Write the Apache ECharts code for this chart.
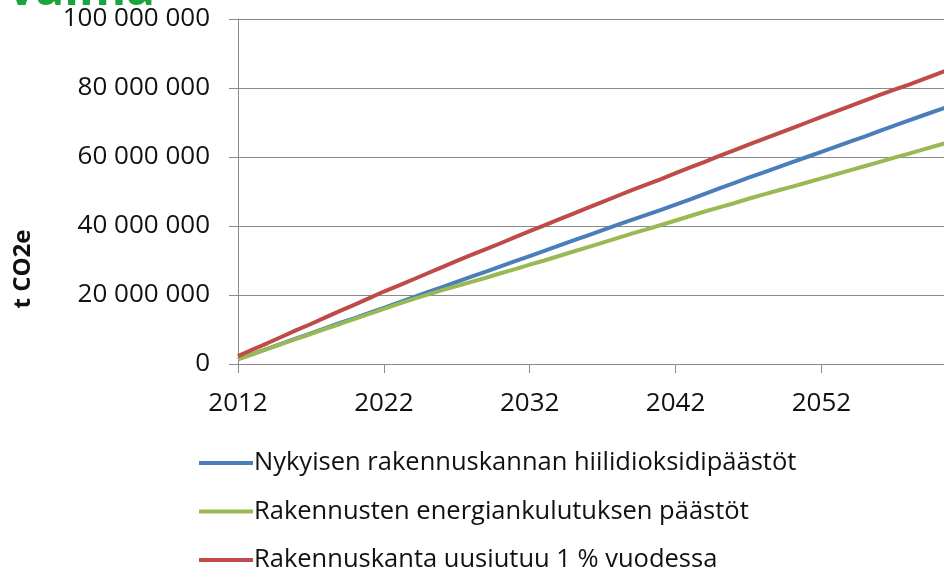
<!DOCTYPE html>
<html>
<head>
<meta charset="utf-8">
<script src="https://cdn.jsdelivr.net/npm/echarts@6/dist/echarts.min.js"></script>
<style>
  html, body { margin: 0; padding: 0; background: #fff; }
  #chart { width: 944px; height: 575px; }
</style>
</head>
<body>
<div id="chart"></div>
<script>
// vuodet
const years = [];
for (let y = 2012; y <= 2062; y++) years.push(y);

// miljoonaa t CO2e, luettu kuvasta
const nykyinenMt = [
  1.4, 2.9, 4.4, 5.9, 7.4, 8.9, 10.4, 11.9, 13.3, 14.8,
  16.3, 17.8, 19.3, 20.8, 22.3, 23.8, 25.3, 26.8, 28.3, 29.8,
  31.3, 32.8, 34.3, 35.8, 37.3, 38.8, 40.3, 41.8, 43.2, 44.7,
  46.2, 47.7, 49.3, 50.9, 52.4, 54.0, 55.5, 57.0, 58.5, 60.0,
  61.5, 63.0, 64.5, 66.0, 67.6, 69.1, 70.6, 72.1, 73.6, 75.1, 76.6
];
const energiaMt = [
  1.4, 2.9, 4.4, 5.8, 7.3, 8.7, 10.2, 11.6, 13.1, 14.5,
  16.0, 17.4, 18.8, 20.1, 21.4, 22.6, 23.8, 25.0, 26.3, 27.5,
  28.8, 30.0, 31.3, 32.6, 33.9, 35.2, 36.5, 37.8, 39.0, 40.3,
  41.6, 42.9, 44.2, 45.4, 46.6, 47.9, 49.1, 50.3, 51.4, 52.6,
  53.8, 55.0, 56.2, 57.4, 58.6, 59.8, 61.0, 62.2, 63.4, 64.6, 65.8
];
const uusiutuuMt = [
  2.3, 4.2, 6.0, 7.9, 9.8, 11.6, 13.5, 15.4, 17.2, 19.1,
  21.0, 22.7, 24.5, 26.3, 28.1, 29.9, 31.6, 33.3, 35.0, 36.8,
  38.5, 40.2, 41.9, 43.6, 45.3, 47.0, 48.7, 50.4, 52.0, 53.6,
  55.3, 57.0, 58.6, 60.3, 61.9, 63.6, 65.2, 66.8, 68.4, 70.0,
  71.6, 73.2, 74.8, 76.4, 78.0, 79.5, 81.0, 82.6, 84.2, 85.8, 87.4
];

const seriesNames = [
  "Nykyisen rakennuskannan hiilidioksidipäästöt",
  "Rakennusten energiankulutuksen päästöt",
  "Rakennuskanta uusiutuu 1 % vuodessa"
];
const seriesColors = ["#4a7ebb", "#98b954", "#be4b48"];
const seriesData = [nykyinenMt, energiaMt, uusiutuuMt];

const FONT = "Open Sans";

//välilyönti tuhaterottimena
function fmt(v) {
  return String(v).replace(/\B(?=(\d{3})+(?!\d))/g, " ");
}

const myChart = echarts.init(document.getElementById("chart"));

const option = {
  animation: false,
  backgroundColor: "#fff",
  textStyle: { fontFamily: FONT },
  graphic: [
    {
      //otsikon alareuna, leikattu ylhäältä
      type: "text",
      x: 155,
      y: -33,
      style: {
        text: "vaima",
        fontFamily: FONT,
        fontWeight: "bold",
        fontSize: 48,
        fill: "#1aa53c",
        align: "right",
        verticalAlign: "top"
      }
    },
    {
      //akselin nimi, hieman keskikohdan alapuolella
      type: "text",
      x: 23,
      y: 269,
      rotation: Math.PI / 2,
      style: {
        text: "t CO2e",
        fontFamily: FONT,
        fontWeight: "bold",
        fontSize: 24,
        fill: "#111",
        align: "center",
        verticalAlign: "middle"
      }
    }
  ],
  grid: {
    left: 238,
    top: 19,
    right: 0, //kuva on leikattu oikealta
    height: 345
  },
  legend: {
    orient: "vertical",
    left: 199,
    top: 450,
    padding: 0,
    itemWidth: 54,
    itemHeight: 4,
    itemGap: 22.5,
    icon: "rect",
    data: seriesNames,
    textStyle: {
      fontFamily: FONT,
      fontSize: 25.5,
      lineHeight: 26,
      color: "#111",
      padding: [0, 0, 0, -4]
    }
  },
  xAxis: {
    type: "value",
    min: 2012,
    max: 2060.4,
    interval: 10,
    axisLine: { lineStyle: { color: "#8a8a8a", width: 1 } },
    axisTick: { show: true, length: 9, lineStyle: { color: "#8a8a8a" } },
    splitLine: { show: false },
    axisLabel: {
      margin: 27,
      fontFamily: FONT,
      fontSize: 26,
      color: "#111",
      showMaxLabel: false,
      formatter: function (v) { return String(v); }
    }
  },
  yAxis: {
    type: "value",
    min: 0,
    max: 100000000,
    interval: 20000000,
    axisLine: { show: true, lineStyle: { color: "#8a8a8a", width: 1 } },
    axisTick: { show: true, length: 9, lineStyle: { color: "#8a8a8a" } },
    splitLine: { show: true, lineStyle: { color: "#8a8a8a", width: 1 } },
    axisLabel: {
      margin: 28,
      fontFamily: FONT,
      fontSize: 26,
      color: "#111",
      formatter: fmt
    }
  },
  series: seriesNames.map(function (name, i) {
    return {
      name: name,
      type: "line",
      showSymbol: false,
      symbol: "none",
      color: seriesColors[i],
      lineStyle: { width: 4, color: seriesColors[i] },
      data: years.map(function (y, k) { return [y, seriesData[i][k] * 1000000]; })
    };
  })
};

myChart.setOption(option);
window.addEventListener("resize", function () { myChart.resize(); });
</script>
</body>
</html>
